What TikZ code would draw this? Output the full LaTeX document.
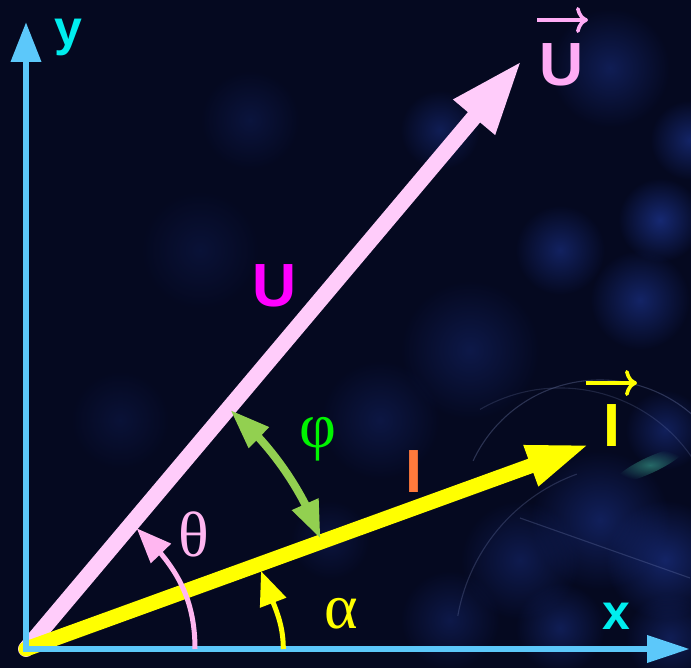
\documentclass[tikz,border=0pt]{standalone}
\usepackage{fontspec}
\setmainfont{Liberation Serif}
\newfontfamily\lsans{Liberation Sans}
\usetikzlibrary{arrows.meta,bending,fadings,calc}

\definecolor{bgc}{RGB}{5,9,32}
\definecolor{axisc}{RGB}{92,200,250}
\definecolor{labc}{RGB}{0,238,238}
\definecolor{upink}{RGB}{255,204,250}
\definecolor{ulab}{RGB}{255,172,245}
\definecolor{thetac}{RGB}{255,182,240}
\definecolor{mag}{RGB}{255,0,255}
\definecolor{iyel}{RGB}{255,255,0}
\definecolor{iorange}{RGB}{255,122,60}
\definecolor{phig}{RGB}{0,245,0}
\definecolor{phiarc}{RGB}{146,208,80}
\definecolor{blobc}{RGB}{30,55,150}
\definecolor{streakc}{RGB}{60,170,150}
\tikzfading[name=softblob, inner color=transparent!0, outer color=transparent!100]

\begin{document}
\begin{tikzpicture}[x=1pt,y=1pt,
  blob/.style={fill=blobc, path fading=softblob},
  faint/.style={draw=blobc!55!white, line width=1.1pt},
  axisline/.style={draw=axisc, line width=6.8pt, line join=miter},
  vecU/.style={draw=upink, line width=16pt, line cap=round, -{Triangle[length=74pt,width=50pt]}},
  vecI/.style={draw=iyel, line width=15pt, line cap=round, -{Triangle[length=63pt,width=39pt]}},
  phiarcs/.style={draw=phiarc, line width=8pt, {Triangle[length=40pt,width=27pt]}-{Triangle[length=38pt,width=27pt]}},
  thetaarc/.style={draw=thetac, line width=5pt, -{Triangle[length=35pt,width=27pt]}},
  alphaarc/.style={draw=iyel, line width=5pt, -{Triangle[length=34pt,width=27pt]}},
  axlab/.style={text=labc, font=\lsans\bfseries\fontsize{50}{50}\selectfont, inner sep=0pt},
  vlab/.style={font=\lsans\bfseries\fontsize{61}{61}\selectfont, inner sep=0pt},
  greek/.style={font=\fontsize{64}{64}\selectfont, inner sep=0pt},
  overarrow/.style={line width=3.6pt, -{Computer Modern Rightarrow[length=12pt,width=26pt]}}
]
\useasboundingbox (0,0) rectangle (691,668);
% background
\fill[bgc] (0,0) rectangle (691,668);
\begin{scope}
\fill[blob, opacity=.45] (440,538) circle (40);
\fill[blob, opacity=.45] (610,600) circle (60);
\fill[blob, opacity=.7] (660,448) circle (42);
\fill[blob, opacity=.55] (560,418) circle (45);
\fill[blob, opacity=.6] (640,368) circle (50);
\fill[blob, opacity=.6] (690,528) circle (40);
\fill[blob, opacity=.35] (470,318) circle (70);
\fill[blob, opacity=.3] (380,248) circle (60);
\fill[blob, opacity=.5] (600,148) circle (70);
\fill[blob, opacity=.4] (520,108) circle (60);
\fill[blob, opacity=.6] (665,108) circle (60);
\fill[blob, opacity=.45] (560,40) circle (45);
\fill[blob, opacity=.45] (670,30) circle (45);
\fill[blob, opacity=.35] (450,48) circle (50);
\fill[blob, opacity=.25] (250,548) circle (50);
\fill[blob, opacity=.2] (200,418) circle (60);
\fill[blob, opacity=.2] (120,248) circle (50);
\fill[blob, opacity=.25] (330,128) circle (40);
\fill[blob, opacity=.5] (665,238) circle (40);
\fill[streakc, path fading=softblob, opacity=.6, rotate around={25:(650,203)}] (650,203) ellipse (38 and 8);
\draw[faint, opacity=.3] (600,148) ++(155:140) arc[start angle=155, end angle=45, radius=140];
\draw[faint, opacity=.2] (560,120) ++(120:160) arc[start angle=120, end angle=30, radius=160];
\draw[faint, opacity=.25] (640,20) ++(170:185) arc[start angle=170, end angle=110, radius=185];
\draw[faint, opacity=.25] (520,150) -- (690,90);
\end{scope}

% key points
\coordinate (O) at (26,19);
\coordinate (Ytip) at (26,646);
\coordinate (Xtip) at (690,19);
\coordinate (Utip) at (521.7,607.3);
\coordinate (Itip) at (590,223.7);

% vectors
\draw[vecU] (O) -- (Utip);
\draw[vecI] (O) -- (Itip);

% axes
\draw[axisline, {Triangle[length=40pt,width=29pt]}-{Triangle[length=43pt,width=26pt]}] (Ytip) -- (O) -- (Xtip);

% angle arcs
\draw[phiarcs] ($(O)+(49.5:314.5)$) arc[start angle=49.5, end angle=20.5, radius=314.5];
\coordinate (th0) at (195,19);
\coordinate (th1) at (136.7,139.7);
\draw[thetaarc] (th0) to[out=90,in=-43] (th1);
\coordinate (al0) at (283.3,19);
\coordinate (al1) at (261,97);
\draw[alphaarc] (al0) to[out=90,in=-72] (al1);

% labels
\node[axlab, anchor=base] (ylab) at (68.5,622) {y};
\node[axlab, anchor=base] (xlab) at (616,38.7) {x};
\node[vlab, text=ulab, anchor=base] (Ulab) at (561.5,582) {U};
\coordinate (Ua1) at (537,648);
\coordinate (Ua2) at (588,648);
\draw[overarrow, draw=ulab] (Ua1) -- (Ua2);
\node[vlab, text=iyel, anchor=base] (Ilab) at (612,221) {I};
\coordinate (Ia1) at (586,285);
\coordinate (Ia2) at (637,285);
\draw[overarrow, draw=iyel] (Ia1) -- (Ia2);
\node[vlab, text=mag, anchor=base] (Umid) at (274.5,361) {U};
\node[vlab, text=iorange, anchor=base] (Imid) at (414,175) {I};
\node[greek, text=phig] (phi) at (318,229) {φ};
\node[greek, text=thetac] (theta) at (194,133.5) {θ};
\node[greek, text=iyel] (alpha) at (341,54) {α};
\end{tikzpicture}
\end{document}
